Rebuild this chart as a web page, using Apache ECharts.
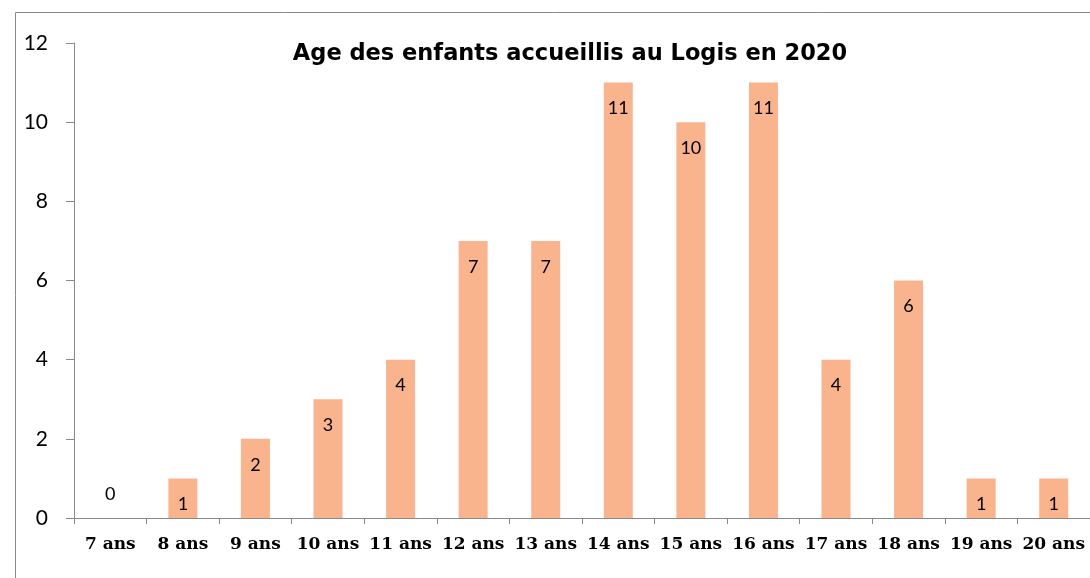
<!DOCTYPE html>
<html><head><meta charset="utf-8">
<script src="https://cdn.jsdelivr.net/npm/echarts@6/dist/echarts.min.js"></script>
<style>html,body{margin:0;padding:0;background:#fff}#c{width:1090px;height:578px}</style>
</head><body><div id="c"></div>
<script>
const titleText = "Age des enfants accueillis au Logis en 2020";
const categories = ["7 ans","8 ans","9 ans","10 ans","11 ans","12 ans","13 ans","14 ans","15 ans","16 ans","17 ans","18 ans","19 ans","20 ans"];
const values = [0,1,2,3,4,7,7,11,10,11,4,6,1,1];
const yTicks = {min: 0, max: 12, interval: 2};

const chart = echarts.init(document.getElementById('c'));
const gray = '#898989';
chart.setOption({
  animation: false,
  graphic: [{type:'rect', shape:{x:15.5,y:12.5,width:1100,height:600}, style:{fill:'none', stroke:gray, lineWidth:1}, silent:true}],
  title: {text: titleText, left: 565, top: 38, textAlign: 'center',
    textStyle: {fontFamily: 'DejaVu Sans', fontWeight: 'bold', fontSize: 22.5, color: '#000'}},
  grid: {left: 74, right: 0, top: 43, bottom: 60},
  xAxis: {type: 'category', data: categories,
    axisLine: {lineStyle: {color: gray}},
    axisTick: {show: true, length: 6, lineStyle: {color: gray}},
    axisLabel: {interval: 0, margin: 18, fontFamily: 'DejaVu Serif', fontWeight: 'bold', fontSize: 17, color: '#000'}},
  yAxis: {type: 'value', min: yTicks.min, max: yTicks.max, interval: yTicks.interval,
    axisLine: {show: true, lineStyle: {color: gray}},
    axisTick: {show: true, length: 8, lineStyle: {color: gray}},
    splitLine: {show: false},
    axisLabel: {margin: 26, fontFamily: 'Lato', fontSize: 21, color: '#000'}},
  series: [{type: 'bar', barWidth: 29, itemStyle: {color: '#F9B48E'},
    data: values.map(v => v === 0
      ? {value: v, label: {position: 'top', distance: 15}}
      : {value: v}),
    label: {show: true, position: 'insideTop', distance: 17, fontFamily: 'Lato', fontSize: 18, color: '#000'}}]
});
</script></body></html>
